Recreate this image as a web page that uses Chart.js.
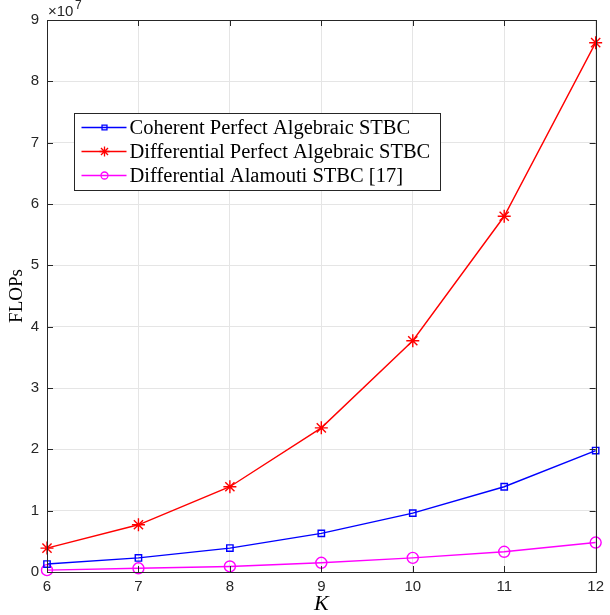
<!DOCTYPE html>
<html>
<head>
<meta charset="utf-8">
<script src="https://cdn.jsdelivr.net/npm/chart.js@4.4.1/dist/chart.umd.min.js"></script>
<style>
  html, body { margin: 0; padding: 0; background: #fff; }
  #wrap { width: 610px; height: 615px; }
</style>
</head>
<body>
<div id="wrap"><canvas id="flopsChart" width="610" height="615"></canvas></div>
<script>
// values, in units of 1e7 FLOPs
const K = [6, 7, 8, 9, 10, 11, 12];
const coherentPerfect = [0.13, 0.23, 0.39, 0.63, 0.96, 1.39, 1.98];
const differentialPerfect = [0.39, 0.77, 1.39, 2.35, 3.77, 5.80, 8.63];
const differentialAlamouti = [0.03, 0.06, 0.09, 0.15, 0.23, 0.33, 0.48];
const yTicks = [0, 1, 2, 3, 4, 5, 6, 7, 8, 9];

const seriesNames = [
    'Coherent Perfect Algebraic STBC',
    'Differential Perfect Algebraic STBC',
    'Differential Alamouti STBC [17]'
];

const axisColor = '#262626';
const tickFont = '15px "Liberation Sans", Arial, sans-serif';
const serifFont = '"Liberation Serif", "DejaVu Serif", serif';

function pts(vals) {
    return K.map((k, i) => ({ x: k, y: vals[i] }));
}

// inward ticks, box, axis titles, exponent and the legend (MATLAB look)
const matlabDecor = {
    id: 'matlabDecor',
    afterDraw(chart) {
        const ctx = chart.ctx;
        const a = chart.chartArea;
        const xs = chart.scales.x, ys = chart.scales.y;
        ctx.save();
        ctx.strokeStyle = axisColor;
        ctx.lineWidth = 1;
        ctx.beginPath();
        K.forEach(k => {
            const px = Math.round(xs.getPixelForValue(k)) + 0.5;
            ctx.moveTo(px, a.bottom); ctx.lineTo(px, a.bottom - 6);
            ctx.moveTo(px, a.top); ctx.lineTo(px, a.top + 6);
        });
        yTicks.forEach(v => {
            const py = Math.round(ys.getPixelForValue(v)) + 0.5;
            ctx.moveTo(a.left, py); ctx.lineTo(a.left + 6, py);
            ctx.moveTo(a.right, py); ctx.lineTo(a.right - 6, py);
        });
        ctx.stroke();
        ctx.strokeRect(Math.round(a.left) + 0.5, Math.round(a.top) + 0.5,
            Math.round(a.right - a.left), Math.round(a.bottom - a.top));

        // exponent
        ctx.fillStyle = axisColor;
        ctx.textBaseline = 'alphabetic';
        ctx.textAlign = 'left';
        ctx.font = tickFont;
        ctx.fillText('\u00d710', a.left + 1, a.top - 4);
        ctx.font = '12px "Liberation Sans", Arial, sans-serif';
        ctx.fillText('7', a.left + 28, a.top - 11);

        // axis titles
        ctx.fillStyle = '#000';
        ctx.textAlign = 'center';
        ctx.textBaseline = 'middle';
        ctx.font = 'italic 22px ' + serifFont;
        ctx.fillText('K', (a.left + a.right) / 2, 604);
        ctx.save();
        ctx.translate(17, (a.top + a.bottom) / 2);
        ctx.rotate(-Math.PI / 2);
        ctx.font = '19px ' + serifFont;
        ctx.fillText('FLOPs', 0, 0);
        ctx.restore();

        // legend box
        const lx = 74.5, ly = 113.5, lw = 366, lh = 77;
        ctx.fillStyle = '#fff';
        ctx.fillRect(lx, ly, lw, lh);
        ctx.strokeStyle = axisColor;
        ctx.lineWidth = 1;
        ctx.strokeRect(lx, ly, lw, lh);
        ctx.font = '20.5px ' + serifFont;
        ctx.textAlign = 'left';
        chart.data.datasets.forEach((ds, i) => {
            const cy = ly + 14 + i * 24;
            ctx.strokeStyle = ds.borderColor;
            ctx.fillStyle = 'rgba(0,0,0,0)';
            ctx.lineWidth = 1.3;
            ctx.beginPath();
            ctx.moveTo(lx + 7, cy); ctx.lineTo(lx + 52, cy);
            ctx.stroke();
            Chart.helpers.drawPoint(ctx, {
                pointStyle: ds.pointStyle, radius: ds.pointStyle === 'star' ? 5 : 3.5,
                rotation: 0, borderWidth: 1.3
            }, lx + 30, cy);
            ctx.fillStyle = '#000';
            ctx.fillText(ds.label, lx + 55, cy + 1);
        });
        ctx.restore();
    }
};

new Chart(document.getElementById('flopsChart'), {
    type: 'line',
    data: {
        datasets: [
            {
                label: seriesNames[0],
                data: pts(coherentPerfect),
                borderColor: '#0000ff',
                pointStyle: 'rect',
                pointRadius: 4.5,
                pointBorderColor: '#0000ff',
                pointBackgroundColor: 'rgba(0,0,0,0)',
                pointBorderWidth: 1.4,
                borderWidth: 1.4
            },
            {
                label: seriesNames[1],
                data: pts(differentialPerfect),
                borderColor: '#ff0000',
                pointStyle: 'star',
                pointRadius: 6.5,
                pointBorderColor: '#ff0000',
                pointBackgroundColor: 'rgba(0,0,0,0)',
                pointBorderWidth: 1.4,
                borderWidth: 1.4
            },
            {
                label: seriesNames[2],
                data: pts(differentialAlamouti),
                borderColor: '#ff00ff',
                pointStyle: 'circle',
                pointRadius: 5.5,
                pointBorderColor: '#ff00ff',
                pointBackgroundColor: 'rgba(0,0,0,0)',
                pointBorderWidth: 1.4,
                borderWidth: 1.4
            }
        ]
    },
    options: {
        responsive: false,
        animation: false,
        clip: false,
        layout: { padding: { top: 20, right: 7, left: 0, bottom: 0 } },
        plugins: {
            legend: { display: false },
            tooltip: { enabled: false }
        },
        scales: {
            x: {
                type: 'linear',
                min: 6, max: 12,
                afterFit: (s) => { s.height = 43; },
                afterBuildTicks: (s) => { s.ticks = K.map(v => ({ value: v })); },
                grid: { color: '#e5e5e5', tickLength: 0, drawTicks: false },
                border: { display: false },
                ticks: {
                    color: axisColor,
                    font: { family: '"Liberation Sans", Arial, sans-serif', size: 15 },
                    padding: 6,
                    maxRotation: 0
                }
            },
            y: {
                min: 0, max: 9,
                afterFit: (s) => { s.width = 47; },
                afterBuildTicks: (s) => { s.ticks = yTicks.map(v => ({ value: v })); },
                grid: { color: '#e5e5e5', tickLength: 0, drawTicks: false },
                border: { display: false },
                ticks: {
                    color: axisColor,
                    font: { family: '"Liberation Sans", Arial, sans-serif', size: 15 },
                    padding: 8
                }
            }
        }
    },
    plugins: [matlabDecor]
});
</script>
</body>
</html>
